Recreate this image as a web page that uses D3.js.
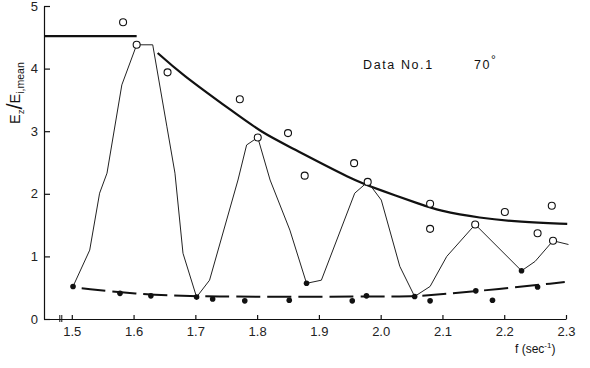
<!DOCTYPE html>
<html>
<head>
<meta charset="utf-8">
<script src="https://cdn.jsdelivr.net/npm/d3@7"></script>
<style>
  body { margin: 0; background: #fff; }
  svg { display: block; font-family: "Liberation Sans", Arial, sans-serif; }
  .axis text { font-size: 13px; fill: #222; }
  .axis path, .axis line { stroke: #111; stroke-width: 1.2; }
</style>
</head>
<body>
<div id="chart"></div>
<script>
// frequency ticks
let xTicks = [1.5, 1.6, 1.7, 1.8, 1.9, 2.0, 2.1, 2.2, 2.3];
let yTicks = [0, 1, 2, 3, 4, 5];

// thick envelope: flat part then decreasing curve
let flatF = [1.455, 1.605];
let flatV = [4.52, 4.52];
let envF = [1.639, 1.675, 1.764, 1.809, 1.853, 1.955, 1.999, 2.068, 2.091, 2.161, 2.226, 2.302];
let envV = [4.25, 3.93, 3.29, 2.97, 2.75, 2.22, 2.06, 1.82, 1.74, 1.61, 1.55, 1.52];

// thin oscillating line
let oscF = [1.502, 1.529, 1.545, 1.557, 1.581, 1.605, 1.631, 1.654, 1.667, 1.680, 1.702, 1.723, 1.769, 1.783, 1.801,
            1.821, 1.853, 1.880, 1.904, 1.958, 1.979, 2.001, 2.031, 2.055, 2.080, 2.107, 2.153, 2.228, 2.250, 2.279, 2.304];
let oscV = [0.52, 1.10, 2.01, 2.33, 3.74, 4.38, 4.38, 3.07, 2.33, 1.05, 0.35, 0.62, 2.22, 2.78, 2.90,
            2.22, 1.42, 0.57, 0.62, 2.01, 2.19, 1.90, 0.84, 0.36, 0.52, 1.00, 1.51, 0.77, 0.92, 1.25, 1.19];
// open circles sitting on the thin line
let peakF = [1.605, 1.801, 1.979, 2.153, 2.279];
let peakV = [4.38, 2.90, 2.19, 1.51, 1.25];
// filled dots sitting on the thin line
let oscDotF = [1.880, 2.228];
let oscDotV = [0.57, 0.77];

// scattered open circles
let openF = [1.583, 1.655, 1.772, 1.850, 1.877, 1.957, 2.080, 2.080, 2.201, 2.254, 2.277];
let openV = [4.74, 3.94, 3.51, 2.97, 2.29, 2.49, 1.84, 1.44, 1.71, 1.37, 1.81];

// lower filled dots and their dashed fit
let dotF = [1.502, 1.578, 1.628, 1.702, 1.728, 1.780, 1.852, 1.954, 1.977, 2.055, 2.080, 2.154, 2.181, 2.254];
let dotV = [0.52, 0.41, 0.37, 0.35, 0.32, 0.29, 0.30, 0.29, 0.37, 0.36, 0.29, 0.45, 0.30, 0.51];
let fitF = [1.516, 1.60, 1.702, 2.031, 2.055, 2.154, 2.298];
let fitV = [0.49, 0.40, 0.35, 0.36, 0.36, 0.44, 0.59];

let width = 590, height = 368;

let svg = d3.select("#chart").append("svg")
    .attr("width", width)
    .attr("height", height);

let x = d3.scaleLinear().domain([1.455, 2.3]).range([44, 566]);
let y = d3.scaleLinear().domain([0, 5]).range([319, 6]);

let pts = (fs, vs) => fs.map((f, i) => [f, vs[i]]);
let line = d3.line().x(d => x(d[0])).y(d => y(d[1]));
let smooth = d3.line().x(d => x(d[0])).y(d => y(d[1])).curve(d3.curveBasis);

// axes
let xAxis = d3.axisBottom(x)
    .tickValues(xTicks)
    .tickFormat(d3.format(".1f"))
    .tickSizeInner(-4)
    .tickSizeOuter(0)
    .tickPadding(8);

let yAxis = d3.axisLeft(y)
    .tickValues(yTicks)
    .tickFormat(d3.format("d"))
    .tickSizeInner(-6)
    .tickSizeOuter(0)
    .tickPadding(6);

svg.append("g")
    .attr("class", "x-axis axis")
    .attr("transform", "translate(0," + y(0) + ")")
    .call(xAxis);

svg.append("g")
    .attr("class", "y-axis axis")
    .attr("transform", "translate(" + x(1.455) + ",0)")
    .call(yAxis);

// little break marks on the x axis
svg.selectAll(".brk")
    .data([1.4806, 1.4838])
    .enter()
    .append("line")
    .attr("x1", d => x(d)).attr("x2", d => x(d))
    .attr("y1", y(0) - 4).attr("y2", y(0) + 3)
    .attr("stroke", "#111").attr("stroke-width", 1);

// thick envelope
svg.append("path")
    .datum(pts(flatF, flatV))
    .attr("d", line)
    .attr("fill", "none").attr("stroke", "#111").attr("stroke-width", 2.2);

svg.append("path")
    .datum(pts(envF, envV))
    .attr("d", smooth)
    .attr("fill", "none").attr("stroke", "#111").attr("stroke-width", 2.2);

// dashed fit through lower dots
svg.append("path")
    .datum(pts(fitF, fitV))
    .attr("d", smooth)
    .attr("fill", "none").attr("stroke", "#111").attr("stroke-width", 2)
    .attr("stroke-dasharray", "24,7");

// thin oscillating line
svg.append("path")
    .datum(pts(oscF, oscV))
    .attr("d", line)
    .attr("fill", "none").attr("stroke", "#222").attr("stroke-width", 1);

// filled dots
svg.selectAll(".dot")
    .data(pts(dotF, dotV).concat(pts(oscDotF, oscDotV)))
    .enter()
    .append("circle")
    .attr("class", "dot")
    .attr("cx", d => x(d[0]))
    .attr("cy", d => y(d[1]))
    .attr("r", 2.8)
    .attr("fill", "#111");

// open circles
svg.selectAll(".open")
    .data(pts(openF, openV).concat(pts(peakF, peakV)))
    .enter()
    .append("circle")
    .attr("class", "open")
    .attr("cx", d => x(d[0]))
    .attr("cy", d => y(d[1]))
    .attr("r", 3.5)
    .attr("fill", "#fff")
    .attr("stroke", "#111")
    .attr("stroke-width", 1.1);

// annotation
let note = svg.append("text")
    .attr("x", 363).attr("y", 69)
    .attr("font-size", 12.5)
    .attr("letter-spacing", 1.6)
    .attr("fill", "#111");
note.append("tspan").text("Data  No.1");
note.append("tspan").attr("x", 474).text("70");
note.append("tspan").attr("dy", -5).attr("font-size", 12).attr("letter-spacing", 0).text("°");

// y label
let ylab = svg.append("text")
    .attr("transform", "translate(20,124) rotate(-90)")
    .attr("font-size", 14.5)
    .attr("fill", "#111");
ylab.append("tspan").text("E");
ylab.append("tspan").attr("font-size", 9.5).attr("dy", 4).text("z");
ylab.append("tspan").attr("font-size", 22).attr("dy", -2).text("/");
ylab.append("tspan").attr("dy", -2).text("E");
ylab.append("tspan").attr("font-size", 10.5).attr("dy", 4).text("i,mean");

// x label
let xlab = svg.append("text")
    .attr("x", 515).attr("y", 353)
    .attr("font-size", 12)
    .attr("fill", "#111");
xlab.append("tspan").text("f (sec");
xlab.append("tspan").attr("font-size", 8).attr("dy", -5).text("-1");
xlab.append("tspan").attr("dy", 5).text(")");
</script>
</body>
</html>
